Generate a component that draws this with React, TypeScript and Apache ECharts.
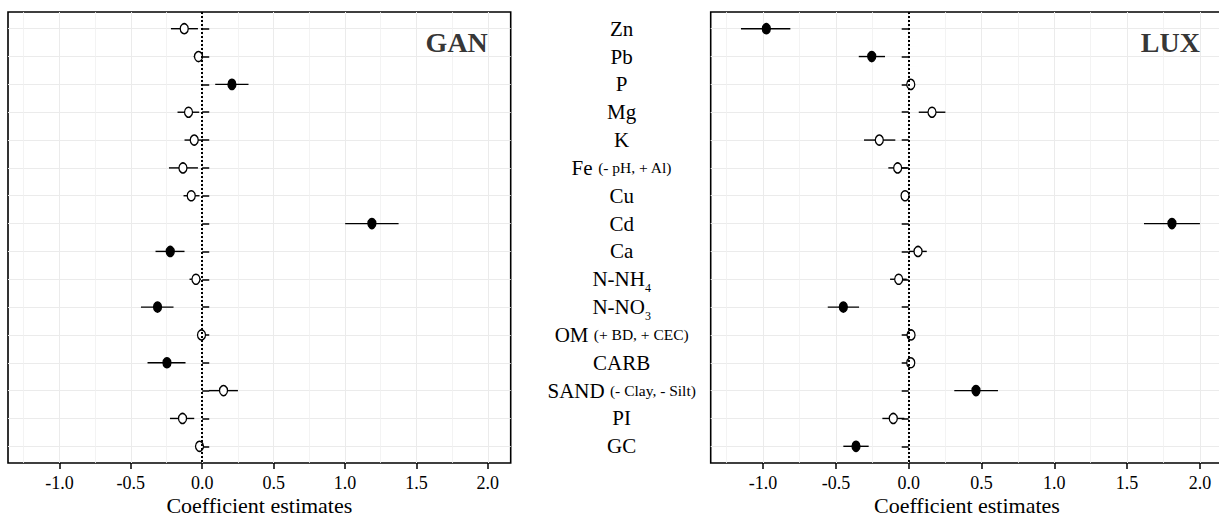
import React, { useEffect, useRef } from 'react';
import * as echarts from 'echarts';

// ---- data ----
const categories = ['Zn', 'Pb', 'P', 'Mg', 'K', 'Fe', 'Cu', 'Cd', 'Ca', 'N-NH', 'N-NO', 'OM', 'CARB', 'SAND', 'PI', 'GC'];
const subscripts = ['', '', '', '', '', '', '', '', '', '4', '3', '', '', '', '', ''];
const notes = ['', '', '', '', '', '(- pH, + Al)', '', '', '', '', '', '(+ BD, + CEC)', '', '(- Clay, - Silt)', '', ''];

const xTicks = [-1.0, -0.5, 0.0, 0.5, 1.0, 1.5, 2.0];
const xMinor = [-1.25, -0.75, -0.25, 0.25, 0.75, 1.25, 1.75];
const xRange = [-1.36, 2.16];

const ganEst = [-0.126, -0.026, 0.208, -0.096, -0.056, -0.135, -0.077, 1.188, -0.224, -0.044, -0.313, -0.005, -0.247, 0.149, -0.138, -0.019];
const ganLo = [-0.219, -0.06, 0.091, -0.173, -0.124, -0.233, -0.131, 1.001, -0.327, -0.089, -0.429, -0.03, -0.383, 0.047, -0.226, -0.049];
const ganHi = [-0.03, 0.005, 0.324, -0.021, 0.005, -0.03, -0.019, 1.375, -0.124, -0.009, -0.201, 0.02, -0.117, 0.25, -0.056, 0.012];
const ganSig = [0, 0, 1, 0, 0, 0, 0, 1, 1, 0, 1, 0, 1, 0, 0, 0];

const luxEst = [-0.978, -0.254, 0.014, 0.16, -0.202, -0.076, -0.025, 1.808, 0.064, -0.069, -0.449, 0.016, 0.014, 0.462, -0.106, -0.362];
const luxLo = [-1.152, -0.343, 0.0, 0.069, -0.307, -0.14, -0.045, 1.616, 0.002, -0.128, -0.556, 0.0, 0.0, 0.313, -0.181, -0.449];
const luxHi = [-0.813, -0.163, 0.03, 0.252, -0.092, -0.009, -0.005, 2.0, 0.124, -0.014, -0.341, 0.03, 0.03, 0.613, -0.03, -0.275];
const luxSig = [1, 1, 0, 0, 0, 0, 0, 1, 0, 0, 1, 0, 0, 1, 0, 1];

const panelNames = ['GAN', 'LUX'];
const panelLabelPos = [2.0, 1.5];

const FONT = 'Liberation Serif';
const positions = categories.map((_, i) => i + 1);

function buildPanel(idx: number, est: number[], lo: number[], hi: number[], sig: number[]) {
  const xi = idx * 2;
  const bars = categories.map((_, i) => [lo[i], hi[i], i + 1]);
  const pts = categories.map((_, i) => ({
    value: [est[i], i + 1],
    itemStyle: { color: sig[i] ? '#000' : '#fff', borderColor: '#000', borderWidth: 1.4, opacity: 1 },
  }));
  return [
    {
      type: 'custom',
      xAxisIndex: xi,
      yAxisIndex: idx,
      data: bars,
      encode: { x: [0, 1], y: 2 },
      z: 3,
      renderItem: (params: any, api: any) => {
        const a = api.coord([api.value(0), api.value(2)]);
        const b = api.coord([api.value(1), api.value(2)]);
        return {
          type: 'line',
          shape: { x1: a[0], y1: a[1], x2: b[0], y2: b[1] },
          style: { stroke: '#000', lineWidth: 1.4 },
        };
      },
    },
    {
      type: 'scatter',
      xAxisIndex: xi,
      yAxisIndex: idx,
      data: pts,
      symbol: 'circle',
      symbolSize: [8, 10],
      z: 4,
    },
    {
      type: 'scatter',
      xAxisIndex: xi,
      yAxisIndex: idx,
      data: [],
      z: 6,
      markLine: {
        silent: true,
        symbol: 'none',
        label: { show: false },
        lineStyle: { color: '#000', width: 2, type: [2, 2] },
        data: [{ xAxis: 0 }],
      },
    },
    {
      type: 'scatter',
      xAxisIndex: xi,
      yAxisIndex: idx,
      data: [panelLabelPos],
      symbolSize: 0,
      z: 7,
      label: {
        show: true,
        position: 'left',
        distance: 0,
        formatter: panelNames[idx],
        fontFamily: FONT,
        fontWeight: 'bold',
        fontSize: 28,
        color: '#000',
      },
    },
  ];
}

function xAxes(gridIndex: number) {
  return [
    {
      type: 'value',
      gridIndex,
      min: xRange[0],
      max: xRange[1],
      axisLine: { show: false },
      axisTick: { show: true, customValues: xTicks, length: 6, lineStyle: { color: '#000', width: 1.5 } },
      axisLabel: {
        customValues: xTicks,
        formatter: (v: number) => v.toFixed(1),
        fontFamily: FONT,
        fontSize: 18,
        color: '#000',
        margin: 11,
      },
      splitLine: { show: true, lineStyle: { color: '#ebebeb', width: 1 } },
      name: 'Coefficient estimates',
      nameLocation: 'middle',
      nameGap: 31,
      nameMoveOverlap: false,
      nameTextStyle: { fontFamily: FONT, fontSize: 22, color: '#000', verticalAlign: 'top' },
    },
    {
      type: 'value',
      gridIndex,
      min: xRange[0],
      max: xRange[1],
      position: 'bottom',
      axisLine: { show: false },
      axisTick: { show: false, customValues: xMinor },
      axisLabel: { show: false, customValues: xMinor },
      splitLine: { show: true, lineStyle: { color: '#f0f0f0', width: 0.8 } },
    },
  ];
}

function labelText(v: number) {
  const i = Math.round(v) - 1;
  if (i < 0 || i >= categories.length) return '';
  let s = '{m|' + categories[i] + '}';
  if (subscripts[i]) s += '{sub|' + subscripts[i] + '}';
  if (notes[i]) s += '{m| }{p|' + notes[i] + '}';
  return s;
}

const gridBase = {
  top: 12,
  height: 451,
  show: true,
  borderColor: '#000',
  borderWidth: 1.6,
  backgroundColor: 'transparent',
  containLabel: false,
  outerBoundsMode: 'none',
};

const option: any = {
  animation: false,
  textStyle: { fontFamily: FONT },
  grid: [
    { ...gridBase, left: 8, width: 502.7 },
    { ...gridBase, left: 710.7, width: 512.5 },
  ],
  xAxis: [...xAxes(0), ...xAxes(1)],
  yAxis: [
    {
      type: 'value',
      gridIndex: 0,
      inverse: true,
      min: 0.4,
      max: 16.6,
      position: 'right',
      axisLine: { show: false },
      axisTick: { show: true, customValues: positions, length: 7, lineStyle: { color: '#000', width: 1.5 } },
      axisLabel: {
        show: true,
        customValues: positions,
        formatter: labelText,
        margin: 111,
        align: 'center',
        rich: {
          m: { fontFamily: FONT, fontSize: 21, color: '#000', lineHeight: 24 },
          p: { fontFamily: FONT, fontSize: 15.5, color: '#000' },
          sub: { fontFamily: FONT, fontSize: 12, color: '#000', padding: [18, 0, 0, 0] },
        },
      },
      splitLine: { show: true, lineStyle: { color: '#ebebeb', width: 1 } },
    },
    {
      type: 'value',
      gridIndex: 1,
      inverse: true,
      min: 0.4,
      max: 16.6,
      position: 'left',
      axisLine: { show: false },
      axisTick: { show: true, customValues: positions, length: 7, lineStyle: { color: '#000', width: 1.5 } },
      axisLabel: { show: false, customValues: positions },
      splitLine: { show: true, lineStyle: { color: '#ebebeb', width: 1 } },
    },
  ],
  series: [
    ...buildPanel(0, ganEst, ganLo, ganHi, ganSig),
    ...buildPanel(1, luxEst, luxLo, luxHi, luxSig),
  ],
};

export default function App() {
  const ref = useRef<HTMLDivElement>(null);
  useEffect(() => {
    document.body.style.margin = '0';
    const chart = echarts.init(ref.current!, null, { renderer: 'svg' });
    chart.setOption(option);
    return () => chart.dispose();
  }, []);
  return <div ref={ref} style={{ width: 1219, height: 517, background: '#fff' }} />;
}
